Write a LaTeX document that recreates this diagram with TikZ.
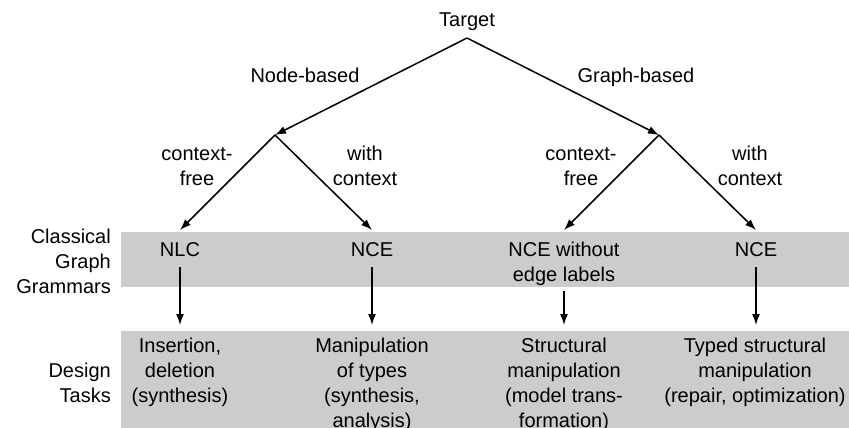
\documentclass[tikz,border=0pt]{standalone}
\usepackage{fontspec}
\setmainfont{Liberation Sans}
\usetikzlibrary{arrows.meta}
\begin{document}
\begin{tikzpicture}[x=1pt,y=-1pt,
  txt/.style={font=\fontsize{20}{25}\selectfont, inner sep=0pt, align=center, anchor=base},
  lbl/.style={font=\fontsize{20}{25}\selectfont, inner sep=0pt, align=right, anchor=base east},
  conn/.style={line width=1.5pt, -{Latex[length=11pt,width=8pt]}},
  band/.style={fill=black!20, draw=none}]
\useasboundingbox (0,0) rectangle (849,428);
% bands
\fill[band] (121,232) rectangle (849,287);
\fill[band] (121,331) rectangle (849,428);
% coordinates
\coordinate (apex) at (467,38);
\coordinate (nb) at (275,135);
\coordinate (gb) at (659,135);
\coordinate (t1) at (180,230);
\coordinate (t2) at (372,230);
\coordinate (t3) at (564,230);
\coordinate (t4) at (756,230);
\coordinate (s1) at (180,267);
\coordinate (s2) at (372,267);
\coordinate (s3) at (564,291);
\coordinate (s4) at (756,267);
\coordinate (e1) at (180,325);
\coordinate (e2) at (372,325);
\coordinate (e3) at (564,325);
\coordinate (e4) at (756,325);
% texts (anchor base = baseline of last line)
\node[txt] (target) at (467,27) {Target};
\node[txt] (nodeb) at (305,82) {Node-based};
\node[txt] (graphb) at (636,82) {Graph-based};
\node[txt] (cf1) at (197,185) {context-\\free};
\node[txt] (wc1) at (365,185) {with\\context};
\node[txt] (cf2) at (581,185) {context-\\free};
\node[txt] (wc2) at (750,185) {with\\context};
\node[lbl] (cgg) at (111,293) {Classical\\Graph\\Grammars};
\node[lbl] (dt) at (111,402) {Design\\Tasks};
\node[txt] (nlc) at (180,256) {NLC};
\node[txt] (nce1) at (372,256) {NCE};
\node[txt] (ncew) at (564,281) {NCE without\\edge labels};
\node[txt] (nce2) at (756,256) {NCE};
\node[txt] (ins) at (180,402) {Insertion,\\deletion\\(synthesis)};
\node[txt] (man) at (372,427) {Manipulation\\of types\\(synthesis,\\analysis)};
\node[txt] (str) at (564,427) {Structural\\manipulation\\(model trans-\\formation)};
\node[txt] (typ) at (755,402) {Typed structural\\manipulation\\(repair, optimization)};
% connectors
\draw[conn] (apex) -- (nb);
\draw[conn] (apex) -- (gb);
\draw[conn] (nb) -- (t1);
\draw[conn] (nb) -- (t2);
\draw[conn] (gb) -- (t3);
\draw[conn] (gb) -- (t4);
\draw[conn] (s1) -- (e1);
\draw[conn] (s2) -- (e2);
\draw[conn] (s3) -- (e3);
\draw[conn] (s4) -- (e4);
\end{tikzpicture}
\end{document}
